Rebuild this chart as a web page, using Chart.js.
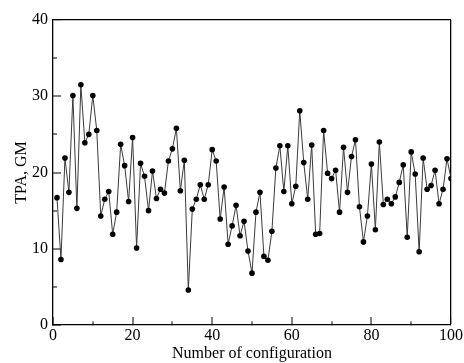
<!DOCTYPE html>
<html>
<head>
<meta charset="utf-8">
<script src="https://cdn.jsdelivr.net/npm/chart.js@4"></script>
<style>
  html, body { margin: 0; padding: 0; background: #fff; }
  #wrap { width: 464px; height: 363px; }
</style>
</head>
<body>
<div id="wrap"><canvas id="chart" width="464" height="363"></canvas></div>
<script>
// Configuration index 1..100
const configs = [];
for (let i = 1; i <= 100; i++) configs.push(i);

// TPA cross-section (GM) per configuration
const tpaValues = [
  16.7, 8.6, 21.9, 17.4, 30.1, 15.3, 31.5, 23.9, 25.0, 30.1,
  25.5, 14.3, 16.5, 17.5, 11.9, 14.8, 23.7, 20.9, 16.2, 24.6,
  10.1, 21.2, 19.5, 15.0, 20.2, 16.6, 17.8, 17.3, 21.5, 23.1,
  25.8, 17.6, 21.6, 4.6, 15.2, 16.5, 18.4, 16.5, 18.4, 23.0,
  21.5, 13.9, 18.1, 10.6, 13.0, 15.7, 11.7, 13.6, 9.7, 6.8,
  14.8, 17.4, 9.0, 8.5, 12.3, 20.6, 23.5, 17.5, 23.5, 15.9,
  18.2, 28.1, 21.3, 16.5, 23.6, 11.9, 12.0, 25.5, 19.9, 19.2,
  20.3, 14.8, 23.3, 17.4, 22.1, 24.3, 15.5, 10.9, 14.3, 21.1,
  12.5, 24.0, 15.8, 16.5, 15.9, 16.8, 18.7, 21.0, 11.5, 22.7,
  19.8, 9.6, 21.9, 17.8, 18.3, 20.3, 15.9, 17.8, 21.8, 19.2,
];

// Tick positions: majors get labels, the ones in between are short minor ticks
const xTicks = [0, 10, 20, 30, 40, 50, 60, 70, 80, 90, 100];
const xMajor = [0, 20, 40, 60, 80, 100];
const yTicks = [0, 5, 10, 15, 20, 25, 30, 35, 40];
const yMajor = [0, 10, 20, 30, 40];

const FONT = 'Liberation Serif, Times New Roman, serif';

// Grid line only at the far edge (closes the frame); tick marks point inward,
// minor ones cut short with a dash
function edgeGrid(majors, edge, fromBorder) {
  const atEdge = (c) => c.tick && c.tick.value === edge;
  return {
    display: true,
    drawOnChartArea: true,
    drawTicks: true,
    color: (c) => (atEdge(c) ? '#000' : 'rgba(0,0,0,0)'),
    lineWidth: (c) => (atEdge(c) ? 1.3 : 0),
    tickLength: -8,
    tickColor: '#000',
    tickWidth: 1,
    tickBorderDash: (c) => {
      if (!c.tick || majors.includes(c.tick.value)) return [];
      return fromBorder ? [4, 100] : [0, 4, 4, 100];
    },
  };
}

const frame = { display: true, color: '#000', width: 1.3 };

new Chart(document.getElementById('chart'), {
  type: 'line',
  data: {
    datasets: [
      {
        data: configs.map((c, i) => ({ x: c, y: tpaValues[i] })),
        borderColor: '#3a3a3a',
        borderWidth: 1,
        pointRadius: 2.8,
        pointBackgroundColor: '#000',
        pointBorderColor: '#000',
        pointBorderWidth: 0,
        tension: 0,
      },
    ],
  },
  options: {
    responsive: false,
    animation: false,
    layout: { padding: { left: 0, top: 20, right: 13, bottom: 0 } },
    plugins: { legend: { display: false }, tooltip: { enabled: false } },
    scales: {
      x: {
        type: 'linear',
        min: 0,
        max: 100,
        afterBuildTicks: (s) => { s.ticks = xTicks.map((v) => ({ value: v })); },
        afterFit: (s) => {
          s.height = 38;
          s.paddingLeft = 0;
          s.paddingRight = 0;
        },
        grid: edgeGrid(xMajor, 100, true),
        border: frame,
        ticks: {
          autoSkip: false,
          color: '#000',
          padding: 9,
          maxRotation: 0,
          font: { family: FONT, size: 16 },
          callback: (v) => (xMajor.includes(v) ? String(v) : ''),
        },
        title: {
          display: true,
          text: 'Number of configuration',
          color: '#000',
          padding: { top: -6, bottom: 0 },
          font: { family: FONT, size: 16 },
        },
      },
      y: {
        type: 'linear',
        min: 0,
        max: 40,
        afterBuildTicks: (s) => { s.ticks = yTicks.map((v) => ({ value: v })); },
        afterFit: (s) => {
          s.width = 53;
          s.paddingTop = 0;
          s.paddingBottom = 0;
        },
        grid: edgeGrid(yMajor, 40, false),
        border: frame,
        ticks: {
          autoSkip: false,
          color: '#000',
          padding: 13,
          font: { family: FONT, size: 16 },
          callback: (v) => (yMajor.includes(v) ? String(v) : ''),
        },
        title: {
          display: true,
          text: 'TPA, GM',
          color: '#000',
          padding: { top: 12, bottom: 0 },
          font: { family: FONT, size: 16 },
        },
      },
    },
  },
});
</script>
</body>
</html>
